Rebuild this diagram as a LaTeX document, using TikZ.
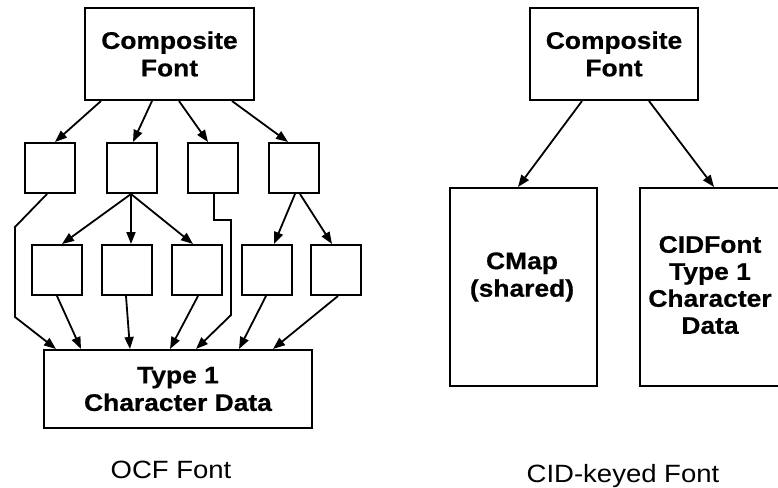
\documentclass[tikz,border=0pt]{standalone}
\usepackage{fontspec}
\setmainfont{Liberation Sans}[FakeStretch=1.1, BoldFeatures={FakeBold=0.6}]
\usetikzlibrary{arrows.meta,calc}
\begin{document}
\begin{tikzpicture}[x=1pt,y=-1pt,
  box/.style={draw, line width=2pt, inner sep=0pt, align=center,
    font=\bfseries\fontsize{24}{27.5}\selectfont},
  sq/.style={draw, line width=2pt, minimum size=50pt, inner sep=0pt},
  txt/.style={inner sep=0pt, align=center, font=\bfseries\fontsize{24}{27.5}\selectfont},
  lab/.style={inner sep=0pt, anchor=base, font=\fontsize{25}{29}\selectfont},
  arr/.style={line width=1.8pt, line join=miter, -{Triangle[length=12pt,width=9pt]}}]
\useasboundingbox (0,0) rectangle (778,487);
\clip (0,0) rectangle (778,487);

% ---------- OCF font ----------
\node[box, minimum width=169pt, minimum height=92pt] (lc) at (169.5,54) {Composite\\Font};
\node[sq] (m1) at (50,168) {};
\node[sq] (m2) at (132,168) {};
\node[sq] (m3) at (213,168) {};
\node[sq] (m4) at (294,168) {};
\node[sq] (ba) at (57,270) {};
\node[sq] (bb) at (127,270) {};
\node[sq] (bc) at (197,270) {};
\node[sq] (bd) at (267,270) {};
\node[sq] (be) at (336,270) {};
\node[box, minimum width=268pt, minimum height=78pt] (t1) at (178,389) {Type 1\\Character Data};

\draw[arr] ([xshift=17pt]lc.south west) -- ([xshift=5pt]m1.north);
\draw[arr] ([xshift=68pt]lc.south west) -- ([xshift=1pt]m2.north);
\draw[arr] ([xshift=95pt]lc.south west) -- ([xshift=-5pt]m3.north);
\draw[arr] ([xshift=148pt]lc.south west) -- ([xshift=-6pt]m4.north);

\draw[arr] ([xshift=-1pt]m2.south) -- ([xshift=5pt]ba.north);
\draw[arr] ([xshift=-1pt]m2.south) -- ([xshift=4pt]bb.north);
\draw[arr] ([xshift=-1pt]m2.south) -- ([xshift=-4pt]bc.north);
\draw[arr] ([xshift=1pt]m4.south) -- ([xshift=7pt]bd.north);
\draw[arr] ([xshift=6pt]m4.south) -- ([xshift=-4pt]be.north);

\draw[arr] ([xshift=-3pt]m1.south) -- (15,227) -- (15,317) -- ([xshift=13pt]t1.north west);
\draw[arr] (ba.south) -- ([xshift=38pt]t1.north west);
\draw[arr] ([xshift=-1pt]bb.south) -- ([xshift=87pt]t1.north west);
\draw[arr] ([xshift=1pt]bc.south) -- ([xshift=127pt]t1.north west);
\draw[arr] ([xshift=1pt]m3.south) -- ++(0,26) -- ++(17,0) -- (231,315) -- ([xshift=153pt]t1.north west);
\draw[arr] ([xshift=-1pt]bd.south) -- ([xshift=196pt]t1.north west);
\draw[arr] ([xshift=2pt]be.south) -- ([xshift=230pt]t1.north west);

\node[lab] (l1) at (171,478) {OCF Font};

% ---------- CID-keyed font ----------
\node[box, minimum width=168pt, minimum height=92pt] (rc) at (614,54) {Composite\\Font};
\node[box, minimum width=147pt, minimum height=198pt] (cmap) at (523.5,287) {};
\node[txt] (cmapt) at (522,277) {CMap\\(shared)};
\node[box, minimum width=150pt, minimum height=198pt] (cid) at (715,287) {};
\node[txt, font=\bfseries\fontsize{24}{27}\selectfont] (cidt) at (710,285) {CIDFont\\Type 1\\Character\\Data};

\draw[arr] ([xshift=53pt]rc.south west) -- ([xshift=-5.5pt]cmap.north);
\draw[arr] ([xshift=120pt]rc.south west) -- ([xshift=75pt]cid.north west);

\node[lab] (l2) at (623,482) {CID-keyed Font};
\end{tikzpicture}
\end{document}
